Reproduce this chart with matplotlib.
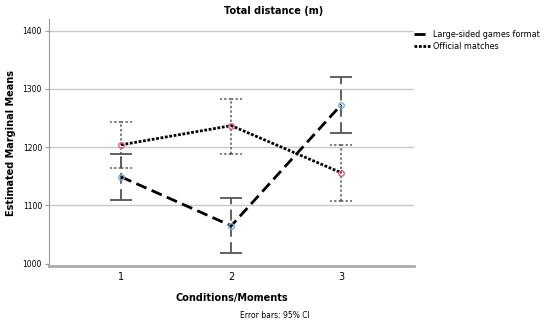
import matplotlib
matplotlib.use("Agg")
import matplotlib.pyplot as plt

moments = [1, 2, 3]
tick_labels = ["1", "2", "3"]
lsg_mean = [1149, 1065, 1273]
lsg_low = [1110, 1019, 1225]
lsg_high = [1189, 1113, 1321]
off_mean = [1204, 1237, 1156]
off_low = [1165, 1189, 1108]
off_high = [1243, 1283, 1204]

fig = plt.figure(figsize=(5.5, 3.26), dpi=100)
ax = fig.add_axes([49/550, 1-266/326, (414-49)/550, (266-19)/326])

def draw(mean, low, high, ls, ebls, capls, eblw, mcol, label):
    yerr = [[m - l for m, l in zip(mean, low)], [h - m for m, h in zip(mean, high)]]
    eb = ax.errorbar(moments, mean, yerr=yerr, fmt='none', ecolor='#555555',
                     elinewidth=eblw, capsize=0, zorder=2)
    for lc in eb[2]:
        lc.set_linestyle(ebls)
    for x, l, h in zip(moments, low, high):
        for yv in (l, h):
            for sgn in (-1, 1):
                ax.plot([x, x + sgn * 0.1], [yv, yv], color='#555555', lw=eblw,
                        linestyle=capls, zorder=2)
    ax.plot(moments, mean, color='black', lw=2, linestyle=ls, label=label, zorder=3)
    ax.plot(moments, mean, linestyle='none', marker='o', ms=4, mfc='none',
            mec=mcol, mew=1, zorder=4)

draw(lsg_mean, lsg_low, lsg_high, (0, (4, 2)), (0, (6, 3)), (2, (9, 2)), 1.3,
     '#7fa8d8', 'Large-sided games format')
draw(off_mean, off_low, off_high, (0, (1, 0.6)), (0, (1.5, 1.5)), (0, (1.5, 1.5)), 1.1,
     '#e06080', 'Official matches')

ax.set_xlim(0.345, 3.66)
ax.set_ylim(996, 1420)
ax.set_yticks([1000, 1100, 1200, 1300, 1400])
ax.set_xticks(moments)
ax.set_xticklabels(tick_labels, fontsize=7)
ax.tick_params(axis='y', labelsize=5.5, length=3, color='#999999', pad=2)
ax.tick_params(axis='x', length=0, pad=4)
for yv in [1100, 1200, 1300, 1400]:
    ax.axhline(yv, color='#c8c8c8', lw=1, zorder=0)
for s in ['top', 'right']:
    ax.spines[s].set_visible(False)
ax.spines['left'].set_color('#999999')
ax.spines['bottom'].set_color('#aaaaaa')
ax.spines['bottom'].set_linewidth(2)

ax.set_xlabel('Conditions/Moments', fontsize=7, fontweight='bold', labelpad=8)
ax.set_ylabel('Estimated Marginal Means', fontsize=7, fontweight='bold', labelpad=5)
fig.text(0.497, 1-11/326, 'Total distance (m)', ha='center', va='center', fontsize=7, fontweight='bold')
fig.text(0.5, 1-316/326, 'Error bars: 95% CI', ha='center', va='center', fontsize=5.5)

leg = ax.legend(loc='upper left', bbox_to_anchor=(1.0, 0.955), frameon=False,
                fontsize=5.8, handlelength=2.0, handletextpad=0.3, labelspacing=0.3,
                borderaxespad=0.0, borderpad=0.0)

fig.savefig('out.png', dpi=100)
